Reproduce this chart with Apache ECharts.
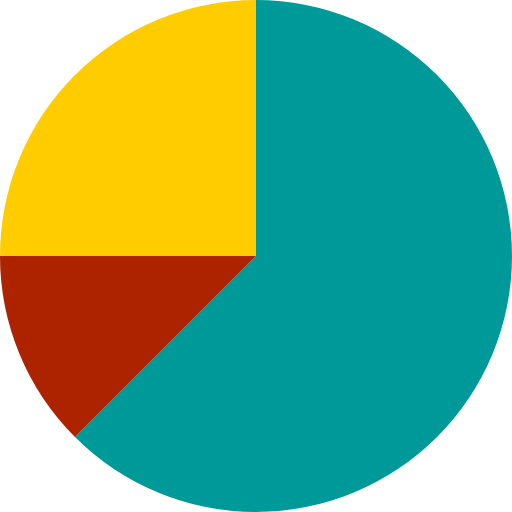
<!DOCTYPE html>
<html>
<head>
<meta charset="utf-8">
<script src="https://cdn.jsdelivr.net/npm/echarts@6/dist/echarts.min.js"></script>
<style>html,body{margin:0;padding:0;background:#fff;}#c{width:512px;height:512px;}</style>
</head>
<body>
<div id="c"></div>
<script>
var categories = ['A', 'B', 'C'];
var values = [62.5, 12.5, 25];
var colors = ['#009999', '#AD2300', '#FFCC00'];

var chart = echarts.init(document.getElementById('c'), null, {renderer: 'canvas'});
chart.setOption({
  animation: false,
  series: [{
    type: 'pie',
    radius: ['0%', '100%'],
    center: ['50%', '50%'],
    startAngle: 90,
    clockwise: true,
    label: {show: false},
    labelLine: {show: false},
    emphasis: {disabled: true},
    itemStyle: {borderWidth: 0},
    data: categories.map(function (c, i) {
      return {name: c, value: values[i], itemStyle: {color: colors[i]}};
    })
  }]
});
</script>
</body>
</html>
